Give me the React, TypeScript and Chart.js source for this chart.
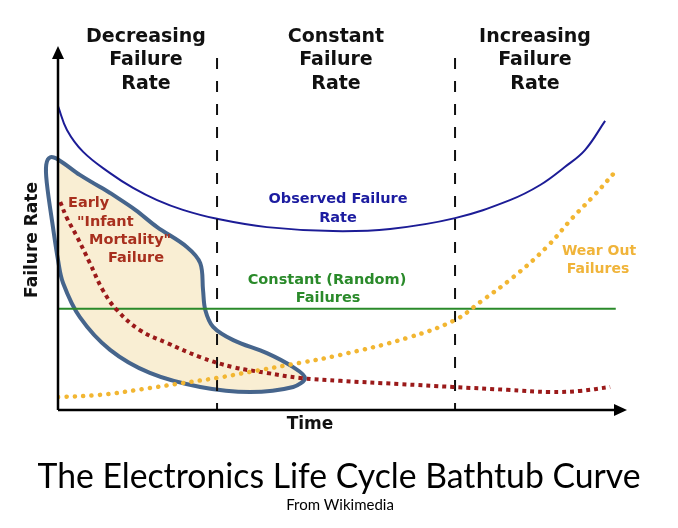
import React, { useEffect, useRef } from "react";
import { Chart, registerables } from "chart.js";

Chart.register(...registerables);

// Time axis (0..100) and failure-rate axis (0..100)
const observedX = [0, 1.6, 4.5, 9.3, 13.4, 17.7, 22.3, 28.4, 37.3, 49.1, 59.3, 70.9, 80.7, 86.1, 90.5, 94.1, 97.7];
const observedY = [84.4, 77.8, 71.7, 65.8, 61.7, 58.3, 55.6, 53.1, 50.8, 49.7, 50.3, 53.3, 58.3, 62.5, 67.5, 72.2, 80.3];

const constantX = [0, 99.6];
const constantY = [28.1, 28.1];

const infantX = [0.4, 1.6, 3.4, 5.7, 8.0, 10.5, 14.6, 19.5, 25.4, 31.3, 37.3, 43.2, 50.4, 61.1, 70.5, 80.2, 87.9, 93.2, 98.6];
const infantY = [57.8, 53.3, 48.1, 40.8, 33.3, 27.8, 22.2, 18.6, 14.7, 11.9, 10.3, 8.9, 8.1, 7.2, 6.4, 5.6, 5.0, 5.3, 6.4];

const wearX = [0, 7.5, 16.4, 22.3, 28.4, 34.3, 43.2, 50.4, 62.3, 70.9, 75.4, 81.3, 87.3, 92.0, 95.5, 99.8];
const wearY = [3.6, 4.2, 6.1, 7.5, 8.9, 10.6, 13.1, 15.3, 20.0, 25.0, 30.0, 36.9, 45.3, 53.6, 59.2, 66.7];

const blobX = [9.3, 13.8, 17.7, 23.0, 25.4, 25.9, 26.3, 27.7, 31.3, 37.3, 42.0, 44.1, 42.0, 34.3, 25.4, 16.4, 9.3, 3.9, 0.9, 0, -0.9, -2.0, -2.1, -1.4, 0.2, 3.9, 9.3];
const blobY = [60.3, 55.6, 50.8, 45.3, 40.8, 33.3, 27.8, 23.1, 19.4, 15.8, 11.9, 8.9, 6.4, 5.0, 6.4, 10.3, 16.7, 25.8, 35.3, 41.7, 50.8, 63.1, 68.1, 70.2, 69.4, 65.3, 60.3];

const phaseBoundaries = [28.4, 70.9];
const boundaryTop = 97.8;

const phaseLabels = [
  ["Decreasing", "Failure", "Rate"],
  ["Constant", "Failure", "Rate"],
  ["Increasing", "Failure", "Rate"],
];

const zip = (xs: number[], ys: number[]) => xs.map((x, i) => ({ x, y: ys[i] }));

const decorPlugin = {
  id: "decor",
  afterDatasetsDraw(chart: any) {
    const ctx = chart.ctx as CanvasRenderingContext2D;
    const xs = chart.scales.x;
    const ys = chart.scales.y;
    const x0 = xs.getPixelForValue(0);
    const y0 = ys.getPixelForValue(0);
    const top = chart.chartArea.top;
    const right = chart.chartArea.right;
    ctx.save();
    // axes with arrows
    ctx.strokeStyle = "#000";
    ctx.fillStyle = "#000";
    ctx.lineWidth = 2.5;
    ctx.beginPath();
    ctx.moveTo(x0, y0);
    ctx.lineTo(x0, top + 6);
    ctx.moveTo(x0, y0);
    ctx.lineTo(right, y0);
    ctx.stroke();
    ctx.beginPath();
    ctx.moveTo(x0, top - 4);
    ctx.lineTo(x0 - 6, top + 9);
    ctx.lineTo(x0 + 6, top + 9);
    ctx.closePath();
    ctx.fill();
    ctx.beginPath();
    ctx.moveTo(right + 9, y0);
    ctx.lineTo(right - 4, y0 - 6);
    ctx.lineTo(right - 4, y0 + 6);
    ctx.closePath();
    ctx.fill();

    // phase headers
    ctx.textAlign = "center";
    ctx.textBaseline = "middle";
    ctx.font = 'bold 19px "DejaVu Sans"';
    ctx.fillStyle = "#111";
    const centers = [146, 336, 535];
    phaseLabels.forEach((lines, i) => {
      lines.forEach((t, j) => ctx.fillText(t, centers[i], 37 + j * 23.5));
    });

    // axis titles
    ctx.font = 'bold 17px "DejaVu Sans"';
    ctx.fillText("Time", 310, 425);
    ctx.save();
    ctx.translate(33, 240);
    ctx.rotate(-Math.PI / 2);
    ctx.fillText("Failure Rate", 0, 0);
    ctx.restore();

    // curve labels
    ctx.font = 'bold 14.5px "DejaVu Sans"';
    ctx.fillStyle = "#1c1ca0";
    ctx.fillText("Observed Failure", 338, 199);
    ctx.fillText("Rate", 338, 218);
    ctx.fillStyle = "#2a8a2a";
    ctx.fillText("Constant (Random)", 327, 280);
    ctx.fillText("Failures", 328, 298);
    ctx.font = 'bold 14px "DejaVu Sans"';
    ctx.fillStyle = "#f0b43a";
    ctx.fillText("Wear Out", 599, 251);
    ctx.fillText("Failures", 598, 269);
    ctx.font = 'bold 14.5px "DejaVu Sans"';
    ctx.fillStyle = "#a8301e";
    ctx.textAlign = "left";
    ctx.fillText("Early", 68, 203);
    ctx.fillText('"Infant', 77, 222);
    ctx.fillText('Mortality"', 89, 240);
    ctx.fillText("Failure", 108, 258);

    // caption
    ctx.textAlign = "center";
    ctx.textBaseline = "alphabetic";
    ctx.fillStyle = "#000";
    ctx.font = '35px "Lato"';
    ctx.fillText("The Electronics Life Cycle Bathtub Curve", 339, 488, 603);
    ctx.font = '15px "Lato"';
    ctx.fillText("From Wikimedia", 340, 510, 114);
    ctx.restore();
  },
};

export default function App() {
  const ref = useRef<HTMLCanvasElement | null>(null);
  useEffect(() => {
    if (!ref.current) return;
    const dashed = phaseBoundaries.map((b) => ({
      data: [{ x: b, y: boundaryTop }, { x: b, y: 0 }],
      borderColor: "#111",
      borderWidth: 2,
      borderDash: [11, 12],
      pointRadius: 0,
      fill: false,
    }));
    const chart = new Chart(ref.current, {
      type: "line",
      data: {
        datasets: [
          {
            data: zip(wearX, wearY),
            borderColor: "#f2b632",
            borderWidth: 4.5,
            borderDash: [0.1, 8.3],
            borderCapStyle: "round",
            pointRadius: 0,
            tension: 0.4,
            fill: false,
          },
          {
            data: zip(infantX, infantY),
            borderColor: "#9b1a1a",
            borderWidth: 4,
            borderDash: [4, 4],
            pointRadius: 0,
            tension: 0.4,
            fill: false,
          },
          ...dashed,
          {
            data: zip(observedX, observedY),
            borderColor: "#1c1c96",
            borderWidth: 2,
            pointRadius: 0,
            tension: 0.4,
            fill: false,
          },
          {
            data: zip(constantX, constantY),
            borderColor: "#2a8a2a",
            borderWidth: 2,
            pointRadius: 0,
            fill: false,
          },
          {
            data: zip(blobX, blobY),
            borderColor: "#46658c",
            backgroundColor: "rgba(240, 214, 150, 0.42)",
            borderWidth: 4,
            pointRadius: 0,
            tension: 0.35,
            fill: "shape",
            clip: false,
          },
        ] as any,
      },
      options: {
        animation: false,
        responsive: false,
        layout: { padding: { left: 58, right: 60, top: 50, bottom: 118 } },
        plugins: { legend: { display: false }, tooltip: { enabled: false }, title: { display: false } },
        scales: {
          x: { type: "linear", min: 0, max: 100, display: false },
          y: { type: "linear", min: 0, max: 100, display: false },
        },
        events: [],
      } as any,
      plugins: [decorPlugin],
    });
    return () => chart.destroy();
  }, []);
  return (
    <div style={{ position: "fixed", left: 0, top: 0, width: 678, height: 528, background: "#fff" }}>
      <canvas ref={ref} width={678} height={528} style={{ display: "block" }} />
    </div>
  );
}
